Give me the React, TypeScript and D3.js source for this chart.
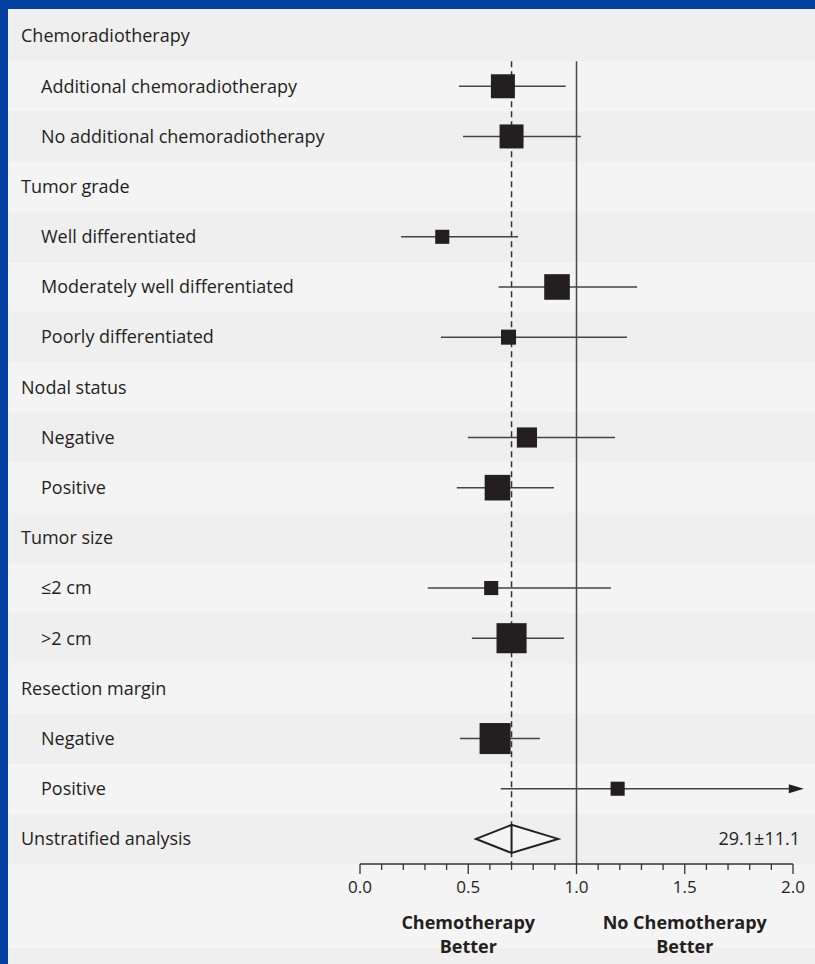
import * as d3 from "d3";

// rows of the forest plot, top to bottom
const labels = [
  "Chemoradiotherapy",
  "Additional chemoradiotherapy",
  "No additional chemoradiotherapy",
  "Tumor grade",
  "Well differentiated",
  "Moderately well differentiated",
  "Poorly differentiated",
  "Nodal status",
  "Negative",
  "Positive",
  "Tumor size",
  "≤2 cm",
  ">2 cm",
  "Resection margin",
  "Negative",
  "Positive",
  "Unstratified analysis",
];
const isSubgroup = [false, true, true, false, true, true, true, false, true, true, false, true, true, false, true, true, false];

// hazard ratio estimates and 95% CI (null = header row)
const estimates = [null, 0.66, 0.70, null, 0.38, 0.91, 0.686, null, 0.771, 0.635, null, 0.606, 0.70, null, 0.624, 1.19, 0.70];
const lower = [null, 0.457, 0.476, null, 0.19, 0.64, 0.374, null, 0.498, 0.447, null, 0.313, 0.517, null, 0.462, 0.65, 0.536];
const upper = [null, 0.95, 1.02, null, 0.73, 1.28, 1.233, null, 1.178, 0.896, null, 1.159, 0.942, null, 0.831, 2.05, 0.915];
// relative weight of each subgroup (square size)
const weights = [null, 0.75, 0.75, null, 0.44, 0.8, 0.47, null, 0.63, 0.8, null, 0.44, 0.94, null, 0.97, 0.44, null];
const overallIndex = 16;
const overallText = "29.1±11.1";
const arrowRows = [15];

const xTicks = [0, 0.5, 1.0, 1.5, 2.0];
const minorTicks = d3.range(0, 2.01, 0.1);
const pooledLine = 0.70;

const W = 815;
const H = 964;
const FONT = "'Open Sans', 'Noto Sans', sans-serif";

export default function App() {
  const x = d3.scaleLinear().domain([0, 2]).range([360, 793]);
  const y = d3.scaleBand<number>().domain(d3.range(labels.length)).range([11, 864]).paddingInner(0);
  const size = d3.scaleLinear().domain([0, 1]).range([0, 32]);
  const cy = (i: number) => (y(i) as number) + y.bandwidth() / 2;
  const axisY = 864;
  const lineTop = y(1) as number;

  return (
    <div style={{ position: "absolute", left: 0, top: 0 }}>
      <svg width={W} height={H} style={{ display: "block" }} fontFamily={FONT}>
        <rect x={0} y={0} width={W} height={H} fill="#0040a0" />
        <rect x={8} y={9} width={W - 8} height={H - 9} fill="#f4f4f4" />

        {/* alternating row stripes */}
        {labels.map((_, i) =>
          i % 2 === 0 ? (
            <rect key={"s" + i} x={8} y={i === 0 ? 9 : (y(i) as number)} width={W - 8}
              height={i === 0 ? y.bandwidth() + 2 : y.bandwidth()} fill="#efefef" />
          ) : null
        )}
        <rect x={8} y={948} width={W - 8} height={H - 948} fill="#efefef" />

        {/* row labels */}
        {labels.map((t, i) => (
          <text key={"l" + i} x={isSubgroup[i] ? 41 : 21} y={cy(i)} dy="0.35em"
            fontSize={18} fill="#231f20">
            {t}
          </text>
        ))}

        {/* reference lines */}
        <line x1={x(1)} x2={x(1)} y1={lineTop} y2={axisY} stroke="#4a4a4a" strokeWidth={1.5} />
        <line x1={x(pooledLine)} x2={x(pooledLine)} y1={lineTop} y2={axisY} stroke="#333" strokeWidth={1.5}
          strokeDasharray="6,4" />

        {/* confidence intervals and squares */}
        {labels.map((_, i) => {
          const est = estimates[i];
          if (est === null || i === overallIndex) return null;
          const s = size(weights[i] as number);
          const arrow = arrowRows.includes(i);
          const x2 = x(upper[i] as number);
          return (
            <g key={"p" + i}>
              <line x1={x(lower[i] as number)} x2={arrow ? x2 - 8 : x2} y1={cy(i)} y2={cy(i)}
                stroke="#444" strokeWidth={1.5} />
              {arrow && (
                <path d={`M${x2},${cy(i)} L${x2 - 15},${cy(i) - 4.5} L${x2 - 15},${cy(i) + 4.5} Z`} fill="#231f20" />
              )}
              <rect x={x(est) - s / 2} y={cy(i) - s / 2} width={s} height={s} fill="#231f20" />
            </g>
          );
        })}

        {/* overall diamond */}
        <path
          d={`M${x(lower[overallIndex] as number)},${cy(overallIndex)} L${x(estimates[overallIndex] as number)},${cy(overallIndex) - 14} L${x(upper[overallIndex] as number)},${cy(overallIndex)} L${x(estimates[overallIndex] as number)},${cy(overallIndex) + 14} Z`}
          fill="#f4f4f4" stroke="#231f20" strokeWidth={2} strokeLinejoin="miter" />
        <line x1={x(pooledLine)} x2={x(pooledLine)} y1={cy(overallIndex) - 14} y2={cy(overallIndex) + 14}
          stroke="#231f20" strokeWidth={2} />
        <text x={800} y={cy(overallIndex)} dy="0.35em" textAnchor="end" fontSize={18} fill="#231f20">
          {overallText}
        </text>

        {/* x axis */}
        <line x1={x(0)} x2={x(2)} y1={axisY} y2={axisY} stroke="#333" strokeWidth={1.3} />
        {minorTicks.map((t, i) => (
          <line key={"m" + i} x1={x(t)} x2={x(t)} y1={axisY} y2={axisY + (i % 5 === 0 ? 10 : 6)}
            stroke="#333" strokeWidth={1.3} />
        ))}
        {xTicks.map((t) => (
          <text key={"t" + t} x={x(t)} y={887} dy="0.35em" textAnchor="middle" fontSize={17} fill="#231f20">
            {t.toFixed(1)}
          </text>
        ))}

        <g fontWeight="bold" fontSize={18} fill="#231f20" textAnchor="middle">
          <text x={x(0.5)} y={923} dy="0.35em">Chemotherapy</text>
          <text x={x(0.5)} y={947} dy="0.35em">Better</text>
          <text x={x(1.5)} y={923} dy="0.35em">No Chemotherapy</text>
          <text x={x(1.5)} y={947} dy="0.35em">Better</text>
        </g>
      </svg>
    </div>
  );
}
